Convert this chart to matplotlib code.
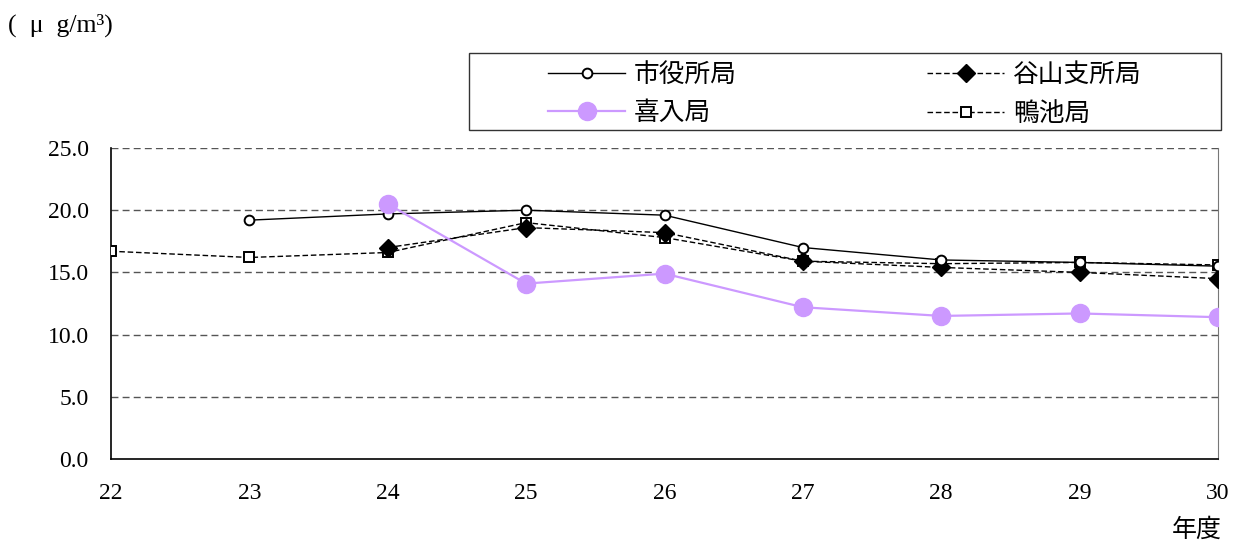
import matplotlib.pyplot as plt
from matplotlib.patches import Rectangle

plt.rcParams['font.family'] = ['Liberation Serif', 'Noto Sans CJK JP', 'DejaVu Sans']

# fiscal years (Heisei) and annual means per station
years = [22, 23, 24, 25, 26, 27, 28, 29, 30]
shiyakusho = [None, 19.2, 19.7, 20.0, 19.6, 17.0, 16.0, 15.8, 15.5]
taniyama = [None, None, 17.0, 18.6, 18.2, 15.9, 15.4, 15.0, 14.5]
kiire = [None, None, 20.5, 14.1, 14.9, 12.2, 11.5, 11.7, 11.4]
kamoike = [16.7, 16.2, 16.6, 19.0, 17.8, 15.9, 15.7, 15.8, 15.6]

y_ticks = [0, 5, 10, 15, 20, 25]


def pts(vals):
    xs = [x for x, v in zip(years, vals) if v is not None]
    ys = [v for v in vals if v is not None]
    return xs, ys


fig = plt.figure(figsize=(12.39, 5.45), dpi=100)
ax = fig.add_axes([111 / 1239, 1 - 459 / 545, (1218 - 111) / 1239, (459 - 148) / 545])

x, y = pts(shiyakusho)
l1, = ax.plot(x, y, color='black', lw=1, marker='o', ms=7, mfc='white', mec='black', mew=1.4,
              label='市役所局', zorder=5)
x, y = pts(taniyama)
l2, = ax.plot(x, y, color='black', lw=1, ls=(0, (4, 2)), marker='D', ms=9, mfc='black', mec='black',
              label='谷山支所局', zorder=4)
x, y = pts(kiire)
l3, = ax.plot(x, y, color='#CC99FF', lw=1.6, marker='o', ms=13, mfc='#CC99FF', mec='#CC99FF',
              label='喜入局', zorder=6)
x, y = pts(kamoike)
l4, = ax.plot(x, y, color='black', lw=1, ls=(0, (4, 2)), marker='s', ms=7.5, mfc='white', mec='black',
              mew=1.4, label='鴨池局', zorder=3)

ax.set_xlim(22, 30)
ax.set_ylim(0, 25)
ax.set_xticks(years)
ax.set_xticklabels([str(v) for v in years])
ax.set_yticks(y_ticks)
ax.set_yticklabels([f'{v:.1f}' for v in y_ticks])
ax.tick_params(labelsize=17, length=0)
ax.tick_params(axis='y', pad=16)
ax.tick_params(axis='x', pad=17)

for v in y_ticks[1:]:
    ax.axhline(v, color='#555555', lw=1, ls=(0, (5, 3)), zorder=1)

ax.spines['top'].set_visible(False)
ax.spines['right'].set_color('#777777')
ax.spines['left'].set_linewidth(1.2)
ax.spines['bottom'].set_linewidth(1.2)

for lab in ax.get_xticklabels() + ax.get_yticklabels():
    lab.set_clip_on(False)

fig.text(8 / 1239, 1 - 25 / 545, '(  μ  g/m³)', fontsize=18.5, va='center', ha='left')
fig.text(1222 / 1239, 1 - 530 / 545, '年度', fontsize=18, va='center', ha='right')

# legend box drawn separately so the entries can sit inset from its edge
fig.patches.append(Rectangle((469 / 1239, 1 - 130 / 545), (1221 - 469) / 1239, 77 / 545,
                             transform=fig.transFigure, fill=False, edgecolor='#333333', lw=1))
leg = fig.legend([l1, l3, l2, l4], ['市役所局', '喜入局', '谷山支所局', '鴨池局'],
                 loc='center left', ncol=2, bbox_to_anchor=(548 / 1239, 1 - 94.5 / 545),
                 fontsize=18.5, frameon=False, handlelength=3.0, handletextpad=0.35,
                 columnspacing=7.4, labelspacing=0.56, borderaxespad=0, borderpad=0)

fig.savefig('out.png', dpi=100)
